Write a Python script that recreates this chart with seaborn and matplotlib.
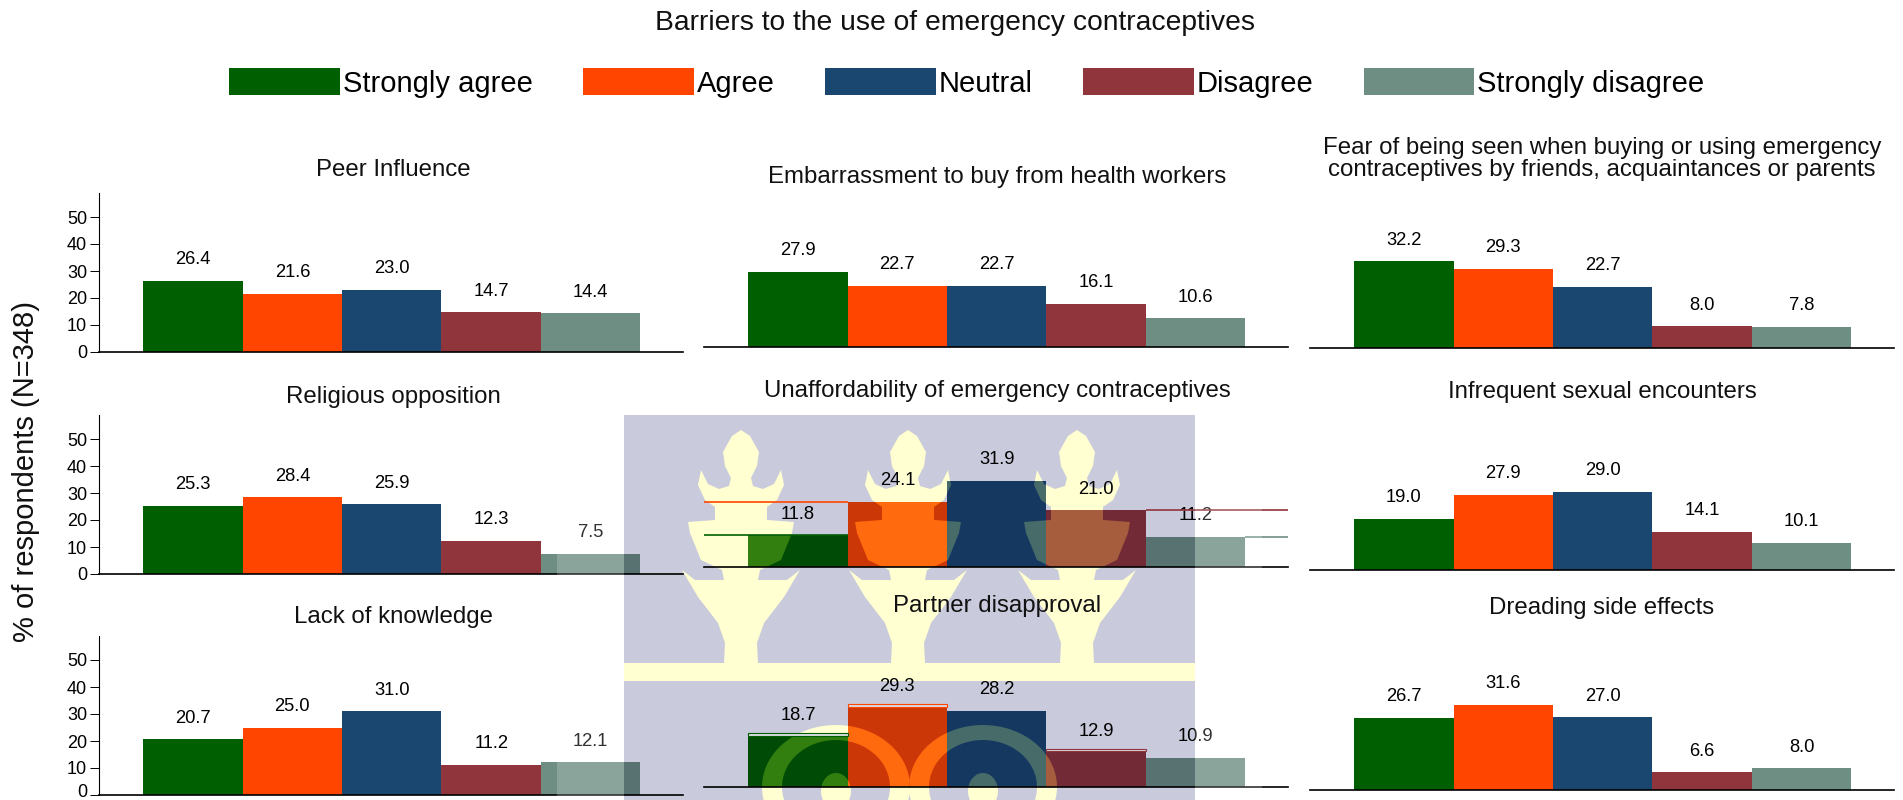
import matplotlib
matplotlib.use('Agg')
import matplotlib.pyplot as plt
from matplotlib.patches import Patch, PathPatch, Rectangle
from matplotlib.path import Path
from matplotlib.transforms import Affine2D, ScaledTranslation
import numpy as np
import pandas as pd
import seaborn as sns

responses = ['Strongly agree', 'Agree', 'Neutral', 'Disagree', 'Strongly disagree']
colors = ['#005F00', '#FF4500', '#1A476F', '#90353B', '#6E8E84']

peer_influence = [26.4, 21.6, 23.0, 14.7, 14.4]
embarrassment = [27.9, 22.7, 22.7, 16.1, 10.6]
fear_seen = [32.2, 29.3, 22.7, 8.0, 7.8]
religious = [25.3, 28.4, 25.9, 12.3, 7.5]
unaffordable = [11.8, 24.1, 31.9, 21.0, 11.2]
infrequent = [19.0, 27.9, 29.0, 14.1, 10.1]
no_knowledge = [20.7, 25.0, 31.0, 11.2, 12.1]
partner = [18.7, 29.3, 28.2, 12.9, 10.9]
side_effects = [26.7, 31.6, 27.0, 6.6, 8.0]

# title, values, axes left px, baseline px, title centre px
panels = [
    ('Peer Influence', peer_influence, 99, 352, 393, 170),
    ('Embarrassment to buy from health workers', embarrassment, 704, 347, 997, 177),
    ('Fear of being seen when buying or using emergency\ncontraceptives by friends, acquaintances or parents',
     fear_seen, 1310, 348, 1602, 159),
    ('Religious opposition', religious, 99, 574, 393, 397),
    ('Unaffordability of emergency contraceptives', unaffordable, 704, 567, 997, 391),
    ('Infrequent sexual encounters', infrequent, 1310, 570, 1602, 392),
    ('Lack of knowledge', no_knowledge, 99, 795, 393, 617),
    ('Partner disapproval', partner, 704, 787, 997, 606),
    ('Dreading side effects', side_effects, 1310, 790, 1602, 608),
]

W, H = 1903, 800
PX_PER_UNIT = 2.7
YMAX = 59
AX_W = 584

sns.set_theme(style='white', rc={'text.color': 'black', 'xtick.color': 'black', 'ytick.color': 'black',
                                 'axes.labelcolor': 'black', 'axes.edgecolor': 'black'})
plt.rcParams['font.family'] = ['Liberation Sans', 'DejaVu Sans']

fig = plt.figure(figsize=(W / 100, H / 100), dpi=100)
fig.patch.set_facecolor('white')
px = Affine2D().scale(1, -1).translate(0, H)  # image pixels -> display


# --- watermark behind the middle column ---
def ccw(v):
    v = np.asarray(v, float)
    area = np.sum(v[:, 0] * np.roll(v[:, 1], -1) - np.roll(v[:, 0], -1) * v[:, 1])
    return v if area > 0 else v[::-1]


def ellipse(cx, cy, rx, ry):
    t = np.linspace(0, 2 * np.pi, 80, endpoint=False)
    return ccw(np.c_[cx + rx * np.cos(t), cy + ry * np.sin(t)])


half_trident = [(0, 430), (9, 436), (18, 452), (16, 466), (10, 478), (12, 486), (22, 489), (33, 484), (40, 470),
                (43, 485), (36, 500), (26, 507), (26, 520), (53, 522), (51, 533), (40, 560), (19, 570), (17, 580),
                (46, 580), (59, 570), (43, 597), (23, 623), (16, 643), (17, 663)]
half_trident = np.array(half_trident, float)


def trident(cx):
    right = half_trident.copy()
    left = half_trident[::-1].copy()
    left[:, 0] *= -1
    v = np.vstack([right, left])
    v[:, 0] += cx
    return ccw(v)


WM_X0, WM_X1, WM_Y0, WM_Y1 = 624, 1195, 415, 800
logo = [trident(cx) for cx in (741, 908, 1077)]
logo.append(ccw([(WM_X0, 663), (WM_X1, 663), (WM_X1, 681), (WM_X0, 681)]))
for cx in (836, 983):
    logo.append(ellipse(cx, 787, 74, 62))
    logo.append(ellipse(cx, 787, 54, 47)[::-1])  # hole of the ring
    logo.append(ellipse(cx, 791, 15, 18))


def make_path(polys):
    return Path.make_compound_path(*[Path(np.vstack([v, v[:1]]), closed=True) for v in polys])


logo_path = make_path(logo)
wm_rect = ccw([(WM_X0, WM_Y0), (WM_X1, WM_Y0), (WM_X1, WM_Y1), (WM_X0, WM_Y1)])
outside_logo = make_path([wm_rect] + [v[::-1] for v in logo])

fig.add_artist(Rectangle((WM_X0, WM_Y0), WM_X1 - WM_X0, WM_Y1 - WM_Y0, transform=px,
                         facecolor='#C9CADB', edgecolor='none', zorder=-2))
fig.add_artist(PathPatch(logo_path, transform=px, facecolor='#FFFFD2', edgecolor='none', zorder=-1))


for title, values, left, base, tx, ty in panels:
    ax = fig.add_axes([left / W, 1 - base / H, AX_W / W, YMAX * PX_PER_UNIT / H])
    ax.patch.set_alpha(0)
    df = pd.DataFrame({'response': responses, 'percent': values})
    sns.barplot(df, x='response', y='percent', hue='response', palette=colors, order=responses,
                hue_order=responses, dodge=False, width=1, saturation=1, errorbar=None, legend=False,
                linewidth=0, ax=ax)
    ax.set_xlim(-0.945, 4.93)
    ax.set_ylim(0, YMAX)
    ax.set_xlabel('')
    ax.set_ylabel('')
    ax.set_xticks([])
    ax.set_yticks(range(0, 51, 10))
    sns.despine(ax=ax, left=left != 99)
    ax.spines['bottom'].set_linewidth(1.2)
    ax.spines['left'].set_linewidth(0.8)
    if left == 99:
        ax.tick_params(axis='y', left=True, length=6.5, width=0.7, pad=2, labelsize=13)
    else:
        ax.tick_params(axis='y', left=False, labelleft=False)
    if base == 795:
        # bottom row sits on the image edge, lift the 0 so it stays whole
        zero = ax.get_yticklabels()[0]
        zero.set_transform(zero.get_transform() + ScaledTranslation(0, 3 / 72, fig.dpi_scale_trans))

    for bars in ax.containers:
        ax.bar_label(bars, fmt='%.1f', padding=9, fontsize=13.2, color='black')

    # the logo shows through the bars
    for bar in list(ax.patches):
        dark = PathPatch(outside_logo, transform=px, facecolor=(0, 0, 40 / 255), alpha=0.2,
                         edgecolor='none', zorder=2)
        pale = PathPatch(logo_path, transform=px, facecolor=(1, 1, 0.3), alpha=0.2,
                         edgecolor='none', zorder=2)
        for p in (dark, pale):
            ax.add_artist(p)
            p.set_clip_path(bar)

    fig.text(tx / W, 1 - ty / H, title, ha='center', va='center', fontsize=17.3, linespacing=1.0, color='#111111')

    if values is unaffordable:
        x0, x1 = ax.get_xlim()
        ax.hlines(values[0], x0, 0.5, color=colors[0], lw=1.2, zorder=3)
        ax.hlines(values[1], x0, 0.5, color=colors[1], lw=1.2, zorder=3)
        ax.hlines(values[3], 3.5, x1, color=colors[3], lw=1.2, zorder=3)
        ax.hlines(values[4], 4.5, x1, color=colors[4], lw=1.2, zorder=3)
    if values is partner:
        for i in (0, 1, 3):
            ax.bar(i, 1.0, bottom=values[i] + 0.3, width=1, facecolor='#DCDCE4', edgecolor=colors[i],
                   linewidth=0.8, zorder=3)
        ax.set_xlim(-0.945, 4.93)

# white margin of the pasted logo lightens what lies next to it
for x0, x1 in [(557, WM_X0), (WM_X1, 1262)]:
    fig.add_artist(Rectangle((x0, 400), x1 - x0, 400, transform=px, facecolor='white', alpha=0.2,
                             edgecolor='none', zorder=5))

fig.text(955 / W, 1 - 23 / H, 'Barriers to the use of emergency contraceptives', ha='center', va='center',
         fontsize=20.3, color='#111111')
fig.text(26 / W, 1 - 472 / H, '% of respondents (N=348)', rotation=90, ha='center', va='center',
         fontsize=21, color='#111111')

handles = [Patch(facecolor=c, edgecolor='none', label=r) for c, r in zip(colors, responses)]
fig.legend(handles=handles, loc='center', bbox_to_anchor=(967 / W, 1 - 83 / H), ncol=5, frameon=False,
           fontsize=21, handlelength=3.8, handleheight=1.0, handletextpad=0.1, columnspacing=1.72, borderpad=0)

fig.savefig('out.png', dpi=100)
